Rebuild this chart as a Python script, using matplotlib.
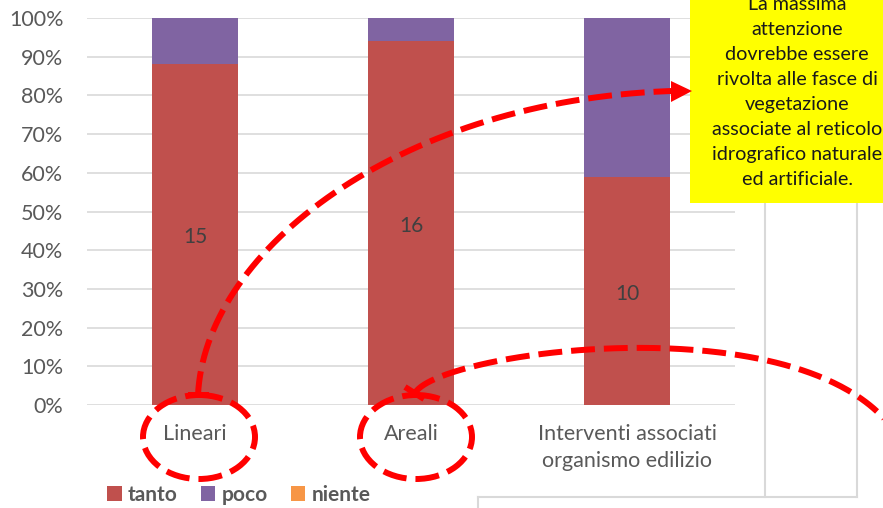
import numpy as np
import matplotlib
matplotlib.use("Agg")
import matplotlib.pyplot as plt
from matplotlib.patches import Ellipse, Rectangle, Polygon
from matplotlib.ticker import PercentFormatter

categories = ["Lineari", "Areali", "Interventi associati\norganismo edilizio"]
tanto = [15, 16, 10]
poco = [2, 1, 7]
niente = [0, 0, 0]
series_names = ["tanto", "poco", "niente"]
colors = ["#C0504D", "#8064A2", "#F79646"]
yticks = [0, 10, 20, 30, 40, 50, 60, 70, 80, 90, 100]
note = ("La massima\nattenzione\ndovrebbe essere\nrivolta alle fasce di\n"
        "vegetazione\nassociate al reticolo\nidrografico naturale\ned artificiale.")

FONT = ["Lato", "DejaVu Sans"]
plt.rcParams["font.family"] = FONT
W, H = 883, 508
fig = plt.figure(figsize=(W / 100, H / 100), dpi=100)

# main chart axes (pixel-based placement)
L, R, T, B = 87, 735, 18, 405
ax = fig.add_axes([L / W, 1 - B / H, (R - L) / W, (B - T) / H])

tot = np.array(tanto) + np.array(poco) + np.array(niente)
vals = [np.array(tanto) / tot * 100, np.array(poco) / tot * 100, np.array(niente) / tot * 100]
x = np.arange(len(categories))
bottom = np.zeros(len(categories))
bars = []
for v, c, n in zip(vals, colors, series_names):
    b = ax.bar(x, v, 0.4, bottom=bottom, color=c, label=n, zorder=2)
    bars.append(b)
    bottom += v

for rect, lab in zip(bars[0], tanto):
    ax.text(rect.get_x() + rect.get_width() / 2, rect.get_y() + rect.get_height() / 2 - 0.8,
            str(lab), ha="center", va="center", fontsize=15, color="#404040", zorder=3)

ax.set_xlim(-0.5, 2.5)
ax.set_ylim(0, 100)
ax.set_yticks(yticks)
ax.yaxis.set_major_formatter(PercentFormatter(decimals=0))
ax.set_xticks(x)
ax.set_xticklabels(categories, fontsize=15.5, color="#595959", linespacing=1.38)
ax.tick_params(axis="y", labelsize=15.5, labelcolor="#595959", length=0, pad=17)
ax.tick_params(axis="x", length=0, pad=14)
ax.grid(axis="y", color="#D9D9D9", lw=1.2, zorder=0)
for s in ax.spines.values():
    s.set_visible(False)
ax.set_axisbelow(True)

leg = ax.legend(loc="center left", bbox_to_anchor=(107 / W, 1 - 495 / H), bbox_transform=fig.transFigure,
                ncol=3, frameon=False, handlelength=0.7, handleheight=0.7, handletextpad=0.3,
                columnspacing=1.1, borderaxespad=0, borderpad=0,
                prop={"size": 15, "weight": "bold", "family": FONT})
for t in leg.get_texts():
    t.set_color("#595959")

# overlay axes in pixel coordinates for annotations
ov = fig.add_axes([0, 0, 1, 1], zorder=5)
ov.set_xlim(0, W)
ov.set_ylim(H, 0)
ov.axis("off")
ov.patch.set_alpha(0)

# background gray lines (other slide content)
gray = "#D9D9D9"
for gx in (765, 857):
    ov.plot([gx, gx], [0, 497], color=gray, lw=1.5, zorder=0)
ov.plot([478, 857], [497, 497], color=gray, lw=1.5, zorder=0)
ov.plot([478, 478], [497, 510], color=gray, lw=1.5, zorder=0)

# yellow note box
ov.add_patch(Rectangle((690, -10), 220, 213, facecolor="#FFFF00", edgecolor="none", zorder=2))
ov.text(797, 92, note, ha="center", va="center", fontsize=14.2, color="#1a1a1a",
        linespacing=1.57, zorder=3)

red = "#FF0000"
dash = (0, (4.0, 1.5))
lw = 4.3

# ellipses around category labels
for cx in (199, 416):
    ov.add_patch(Ellipse((cx, 437), 112, 84, fill=False, edgecolor=red, lw=lw,
                         linestyle=dash, zorder=4))

def bez(p0, p1, p2, p3, n=200):
    t = np.linspace(0, 1, n)[:, None]
    p0, p1, p2, p3 = map(np.array, (p0, p1, p2, p3))
    return ((1 - t) ** 3) * p0 + 3 * ((1 - t) ** 2) * t * p1 + 3 * (1 - t) * t ** 2 * p2 + t ** 3 * p3

# arrow 1 to note box
c1 = bez((198, 395), (205, 250), (400, 100), (672, 91))
ov.plot(c1[:, 0], c1[:, 1], color=red, lw=lw, linestyle=dash, dash_capstyle="butt", zorder=4)
ov.add_patch(Polygon([(671, 81), (692, 91), (671, 102)], closed=True, facecolor=red,
                     edgecolor="none", zorder=4))
ov.plot([188, 209], [395, 395], color=red, lw=lw, solid_capstyle="butt", zorder=4)

# arrow 2 (goes off the right edge)
c2 = bez((415, 393), (440, 350), (820, 300), (900, 440))
ov.plot(c2[:, 0], c2[:, 1], color=red, lw=lw, linestyle=dash, dash_capstyle="butt", zorder=4)
ov.plot([405, 424], [387, 399], color=red, lw=lw, solid_capstyle="butt", zorder=4)

fig.savefig("out.png", dpi=100)
